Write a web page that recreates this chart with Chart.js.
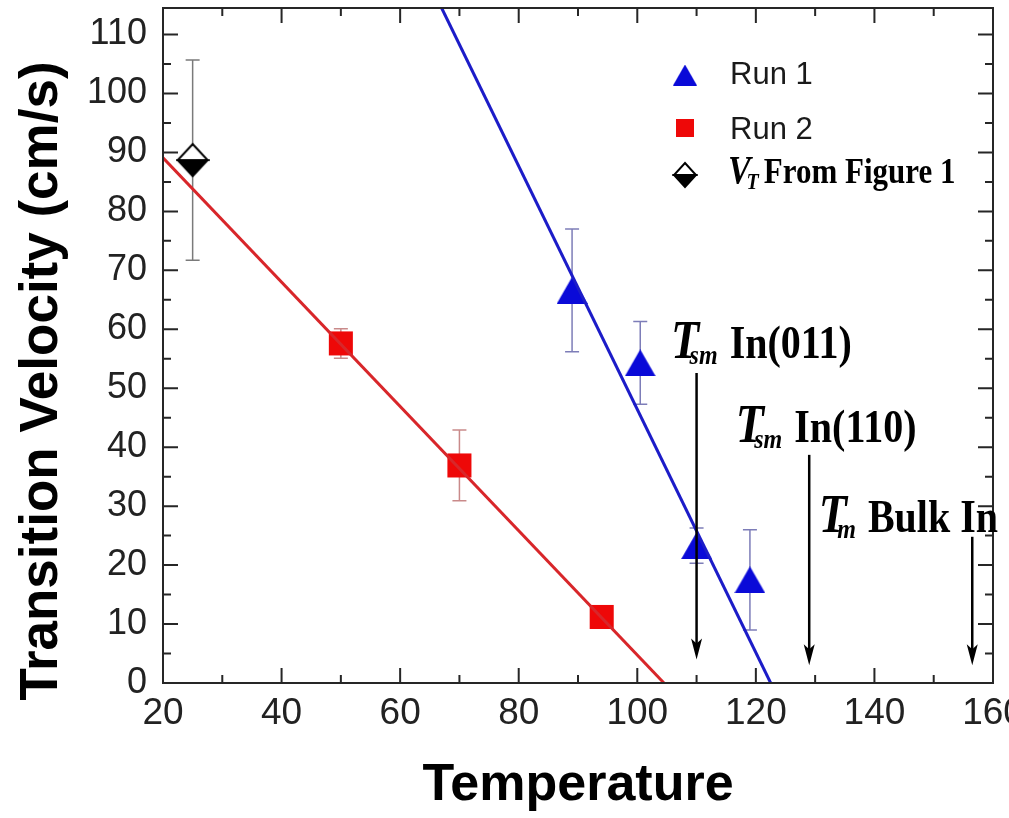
<!DOCTYPE html>
<html>
<head>
<meta charset="utf-8">
<script src="https://cdn.jsdelivr.net/npm/chart.js@4.4.0/dist/chart.umd.min.js"></script>
<style>
  html, body { margin: 0; padding: 0; background: #fff; }
</style>
</head>
<body>
<canvas id="velocity_chart" width="1009" height="818"></canvas>
<script>
// Run 1 (blue triangles)
var run1_temp = [89, 100.5, 110, 119];
var run1_vel = [66.6, 54.3, 23.3, 17.5];
var run1_err = [10.4, 7.0, 3.0, 8.5];

// Run 2 (red squares)
var run2_temp = [50, 70, 94];
var run2_vel = [57.6, 36.9, 11.2];
var run2_err = [2.5, 6.0, 1.5];

// V_T from figure 1
var vt_temp = [25];
var vt_vel = [88.7];
var vt_err = [17];

// straight fit lines, end points
var fit1_temp = [67, 122.5];
var fit1_vel = [114.5, 0];
var fit2_temp = [20, 104.5];
var fit2_vel = [89.1, 0];

// melting point arrows
var arrow_temp = [110, 129, 156.5];
var arrow_top = [52.6, 38.7, 24.8];
var arrow_tip = [4, 3, 3];
var arrow_letter = ['T', 'T', 'T'];
var arrow_sub = ['sm', 'sm', 'm'];
var arrow_text = ['In(011)', 'In(110)', 'Bulk In'];

var x_ticks = [20, 40, 60, 80, 100, 120, 140, 160];
var y_ticks = [0, 10, 20, 30, 40, 50, 60, 70, 80, 90, 100, 110];
var X_MIN = 20, X_MAX = 160, Y_MIN = 0, Y_MAX = 114.5;

var BLUE = '#0a0ad8';
var RED = '#ee0808';
var SERIF = '"Liberation Serif", "Times New Roman", serif';
var SANS = '"Liberation Sans", Arial, sans-serif';

// where the annotation text sits (data units), and the legend (pixels)
var label_pos = [[105.7, 55.2], [116.6, 40.9], [130.6, 25.6]];
var legend_box = { markerX: 685, textX: 730, rows: [75, 128, 175] };

function points(xs, ys) {
    var out = [];
    for (var i = 0; i < xs.length; i++) out.push({ x: xs[i], y: ys[i] });
    return out;
}

function makeTriangle(w, h, color) {
    var c = document.createElement('canvas');
    c.width = w; c.height = h;
    var g = c.getContext('2d');
    g.fillStyle = color;
    g.beginPath();
    g.moveTo(w / 2, 0); g.lineTo(w, h); g.lineTo(0, h);
    g.closePath(); g.fill();
    return c;
}

function makeDiamond(w, h) {
    var c = document.createElement('canvas');
    c.width = w + 4; c.height = h + 4;
    var g = c.getContext('2d');
    var cx = c.width / 2, cy = c.height / 2;
    g.lineWidth = 2;
    g.strokeStyle = '#000';
    g.fillStyle = '#fff';
    g.beginPath();
    g.moveTo(cx, cy - h / 2); g.lineTo(cx + w / 2, cy); g.lineTo(cx - w / 2, cy);
    g.closePath(); g.fill(); g.stroke();
    g.fillStyle = '#000';
    g.beginPath();
    g.moveTo(cx - w / 2, cy); g.lineTo(cx + w / 2, cy); g.lineTo(cx, cy + h / 2);
    g.closePath(); g.fill(); g.stroke();
    return c;
}

var tri_big = makeTriangle(31, 27, BLUE);
var tri_small = makeTriangle(24, 21, BLUE);
var dia_big = makeDiamond(30, 32);
var dia_small = makeDiamond(22, 24);

// text stretched in y like the scanned figure
function stretchText(ctx, text, x, y, font, sy) {
    ctx.save();
    ctx.translate(x, y);
    ctx.scale(1, sy);
    ctx.font = font;
    ctx.textAlign = 'left';
    ctx.textBaseline = 'alphabetic';
    ctx.fillText(text, 0, 0);
    ctx.restore();
}

// sizes: letter px, sub px, rest px, gap after sub, sub shift (fraction of letter width)
function drawSubLabel(ctx, x, y, letter, sub, rest, sizes) {
    var lf = 'italic bold ' + sizes[0] + 'px ' + SERIF;
    var sf = 'italic bold ' + sizes[1] + 'px ' + SERIF;
    var rf = 'bold ' + sizes[2] + 'px ' + SERIF;
    ctx.font = lf;
    var lw = ctx.measureText(letter).width;
    ctx.font = sf;
    var sw = ctx.measureText(sub).width;
    stretchText(ctx, letter, x, y, lf, 1.18);
    var sx = x + lw * sizes[4];
    stretchText(ctx, sub, sx, y + 6, sf, 1.18);
    stretchText(ctx, rest, sx + sw + sizes[3], y, rf, 1.18);
}

function drawErrors(ctx, xs, ys, es, xsc, ysc, color) {
    ctx.strokeStyle = color;
    ctx.lineWidth = 1.5;
    for (var i = 0; i < xs.length; i++) {
        var px = xsc.getPixelForValue(xs[i]);
        var top = ysc.getPixelForValue(ys[i] + es[i]);
        var bot = ysc.getPixelForValue(ys[i] - es[i]);
        ctx.beginPath();
        ctx.moveTo(px, top); ctx.lineTo(px, bot);
        ctx.moveTo(px - 7, top); ctx.lineTo(px + 7, top);
        ctx.moveTo(px - 7, bot); ctx.lineTo(px + 7, bot);
        ctx.stroke();
    }
}

var errorBarPlugin = {
    id: 'errorBars',
    beforeDatasetsDraw: function(chart) {
        var ctx = chart.ctx, xs = chart.scales.x, ys = chart.scales.y;
        ctx.save();
        drawErrors(ctx, vt_temp, vt_vel, vt_err, xs, ys, '#7a7a7a');
        drawErrors(ctx, run2_temp, run2_vel, run2_err, xs, ys, '#c98a8a');
        drawErrors(ctx, run1_temp, run1_vel, run1_err, xs, ys, '#7d7db8');
        ctx.restore();
    }
};

var frameAndNotesPlugin = {
    id: 'frameAndNotes',
    afterDraw: function(chart) {
        var ctx = chart.ctx, a = chart.chartArea;
        var xs = chart.scales.x, ys = chart.scales.y;
        ctx.save();

        // frame with inward ticks on all four sides
        ctx.strokeStyle = '#262626';
        ctx.lineWidth = 2;
        ctx.strokeRect(a.left, a.top, a.right - a.left, a.bottom - a.top);
        ctx.beginPath();
        for (var i = 0; i < x_ticks.length; i++) {
            var px = xs.getPixelForValue(x_ticks[i]);
            ctx.moveTo(px, a.bottom); ctx.lineTo(px, a.bottom - 15);
            ctx.moveTo(px, a.top); ctx.lineTo(px, a.top + 15);
            if (i < x_ticks.length - 1) {
                var mx = xs.getPixelForValue((x_ticks[i] + x_ticks[i + 1]) / 2);
                ctx.moveTo(mx, a.bottom); ctx.lineTo(mx, a.bottom - 8);
                ctx.moveTo(mx, a.top); ctx.lineTo(mx, a.top + 8);
            }
        }
        for (var j = 0; j < y_ticks.length; j++) {
            var py = ys.getPixelForValue(y_ticks[j]);
            ctx.moveTo(a.left, py); ctx.lineTo(a.left + 15, py);
            ctx.moveTo(a.right, py); ctx.lineTo(a.right - 15, py);
            var mid = y_ticks[j] + 5;
            if (mid < Y_MAX) {
                var my = ys.getPixelForValue(mid);
                ctx.moveTo(a.left, my); ctx.lineTo(a.left + 8, my);
                ctx.moveTo(a.right, my); ctx.lineTo(a.right - 8, my);
            }
        }
        ctx.stroke();

        // arrows marking the melting temperatures
        ctx.strokeStyle = '#000';
        ctx.fillStyle = '#000';
        ctx.lineWidth = 2.5;
        for (var k = 0; k < arrow_temp.length; k++) {
            var ax = xs.getPixelForValue(arrow_temp[k]);
            var at = ys.getPixelForValue(arrow_top[k]);
            var ab = ys.getPixelForValue(arrow_tip[k]);
            ctx.beginPath();
            ctx.moveTo(ax, at); ctx.lineTo(ax, ab - 12);
            ctx.stroke();
            ctx.beginPath();
            ctx.moveTo(ax, ab);
            ctx.lineTo(ax - 5.5, ab - 21);
            ctx.lineTo(ax, ab - 16);
            ctx.lineTo(ax + 5.5, ab - 21);
            ctx.closePath();
            ctx.fill();

            var lx = xs.getPixelForValue(label_pos[k][0]);
            var ly = ys.getPixelForValue(label_pos[k][1]);
            drawSubLabel(ctx, lx, ly, arrow_letter[k], arrow_sub[k], arrow_text[k], [46, 24, 40, 12, 0.66]);
        }

        // legend
        var lb = legend_box;
        ctx.drawImage(tri_small, lb.markerX - tri_small.width / 2, lb.rows[0] - tri_small.height / 2);
        ctx.fillStyle = RED;
        ctx.fillRect(lb.markerX - 9, lb.rows[1] - 9, 18, 18);
        ctx.drawImage(dia_small, lb.markerX - dia_small.width / 2, lb.rows[2] - dia_small.height / 2);
        ctx.fillStyle = '#1a1a1a';
        ctx.font = '31px ' + SANS;
        ctx.textAlign = 'left';
        ctx.textBaseline = 'alphabetic';
        ctx.fillText('Run 1', lb.textX, lb.rows[0] + 9);
        ctx.fillText('Run 2', lb.textX, lb.rows[1] + 11);
        ctx.fillStyle = '#000';
        drawSubLabel(ctx, lb.textX - 2, lb.rows[2] + 8, 'V', 'T', 'From Figure 1', [34, 20, 31, 5, 0.82]);

        // y axis title
        ctx.save();
        ctx.translate(42, 381);
        ctx.rotate(-Math.PI / 2);
        ctx.font = 'bold 53px ' + SANS;
        ctx.textAlign = 'center';
        ctx.textBaseline = 'middle';
        ctx.fillStyle = '#000';
        ctx.fillText('Transition Velocity (cm/s)', 0, 0);
        ctx.restore();

        ctx.restore();
    }
};

function create_chart() {
    var context = document.getElementById('velocity_chart');
    new Chart(context, {
        type: 'scatter',
        data: {
            datasets: [{
                label: 'Run 1 fit',
                type: 'line',
                data: points(fit1_temp, fit1_vel),
                borderColor: '#1c1cc8',
                borderWidth: 3,
                pointRadius: 0,
                fill: false,
                order: 0
            }, {
                label: 'Run 2 fit',
                type: 'line',
                data: points(fit2_temp, fit2_vel),
                borderColor: '#d8262a',
                borderWidth: 3,
                pointRadius: 0,
                fill: false,
                order: 0
            }, {
                label: 'Run 1',
                data: points(run1_temp, run1_vel),
                pointStyle: tri_big,
                pointRadius: 16,
                order: 1
            }, {
                label: 'Run 2',
                data: points(run2_temp, run2_vel),
                pointStyle: 'rect',
                pointRadius: 17,
                backgroundColor: RED,
                borderColor: RED,
                borderWidth: 0,
                order: 1
            }, {
                label: 'V_T From Figure 1',
                data: points(vt_temp, vt_vel),
                pointStyle: dia_big,
                pointRadius: 16,
                order: 1
            }]
        },
        options: {
            responsive: false,
            animation: false,
            devicePixelRatio: 1,
            layout: { autoPadding: false, padding: { top: 8, right: 16, left: 0, bottom: 0 } },
            plugins: {
                legend: { display: false },
                tooltip: { enabled: false }
            },
            scales: {
                x: {
                    type: 'linear',
                    min: X_MIN,
                    max: X_MAX,
                    grid: { display: false, drawTicks: false },
                    border: { display: false },
                    afterBuildTicks: function(scale) {
                        scale.ticks = x_ticks.map(function(v) { return { value: v }; });
                    },
                    afterFit: function(scale) {
                        scale.height = 135;
                        scale.paddingLeft = 0;
                        scale.paddingRight = 0;
                    },
                    ticks: {
                        autoSkip: false,
                        maxRotation: 0,
                        padding: 9,
                        color: '#222',
                        font: { family: SANS, size: 37 }
                    },
                    title: {
                        display: true,
                        text: 'Temperature',
                        color: '#000',
                        padding: { top: 0, bottom: 1 },
                        font: { family: SANS, size: 52, weight: 'bold' }
                    }
                },
                y: {
                    type: 'linear',
                    min: Y_MIN,
                    max: Y_MAX,
                    grid: { display: false, drawTicks: false },
                    border: { display: false },
                    afterBuildTicks: function(scale) {
                        scale.ticks = y_ticks.map(function(v) { return { value: v }; });
                    },
                    afterFit: function(scale) {
                        scale.width = 163;
                        scale.paddingTop = 0;
                        scale.paddingBottom = 0;
                    },
                    ticks: {
                        padding: 16,
                        color: '#222',
                        font: { family: SANS, size: 36 }
                    }
                }
            }
        },
        plugins: [errorBarPlugin, frameAndNotesPlugin]
    });
}

window.onload = function() {
    create_chart();
};
</script>
</body>
</html>
